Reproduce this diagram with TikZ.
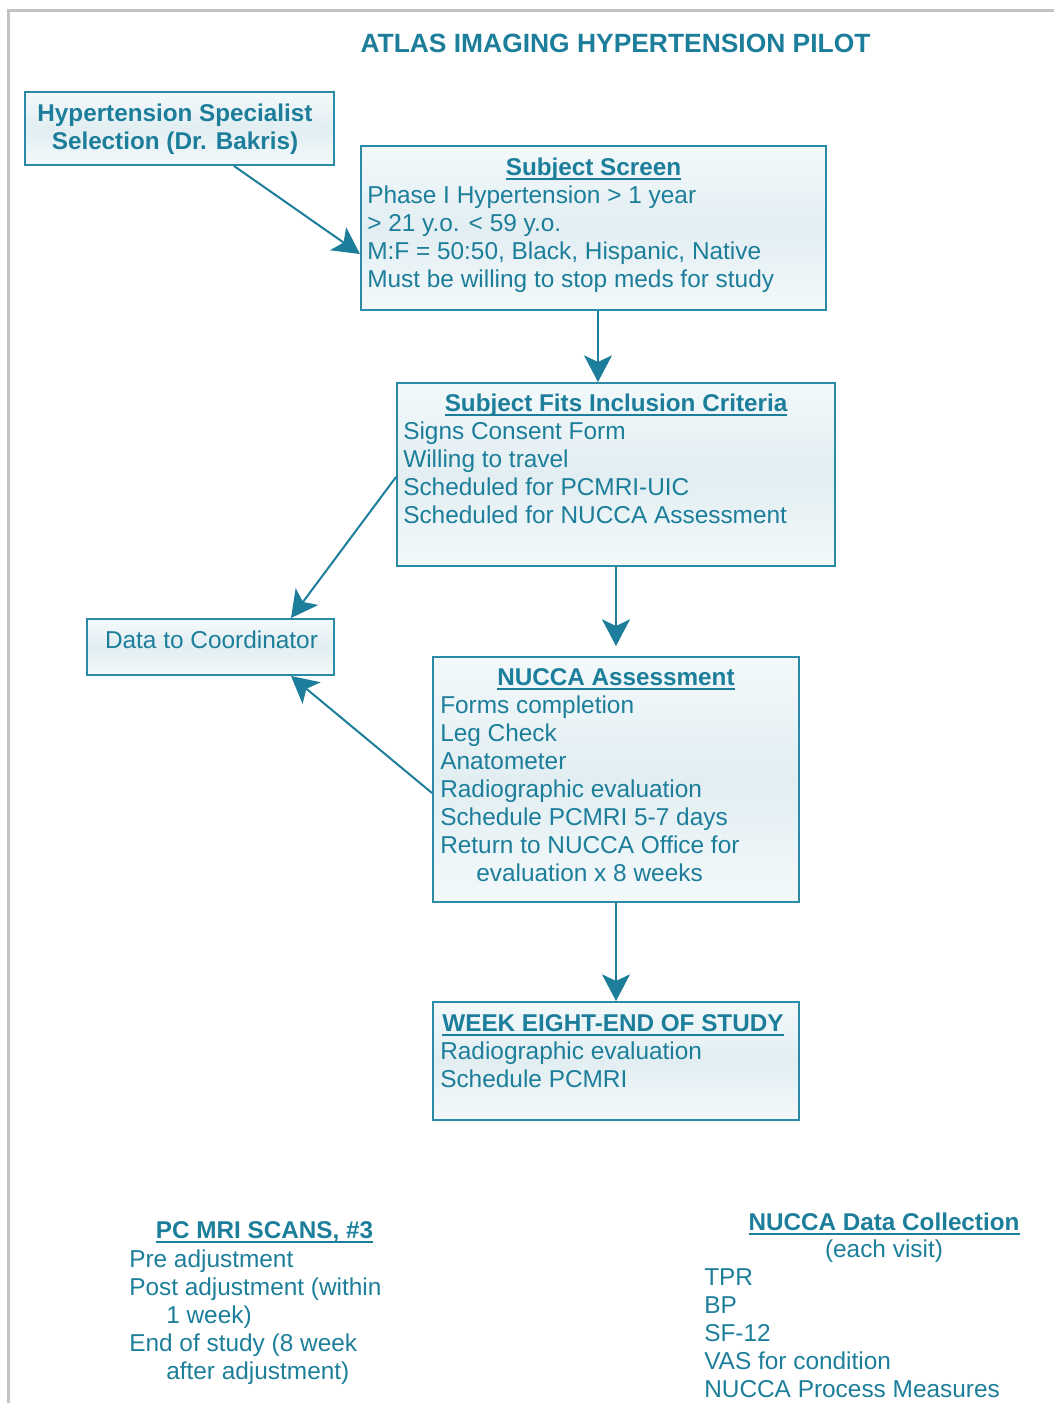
\documentclass[tikz,border=0pt]{standalone}
\usepackage{fontspec}
\setmainfont{Liberation Sans}
\usepackage{xcolor}
\usepackage{tikz}
\usetikzlibrary{arrows.meta}
\usetikzlibrary{calc}

\definecolor{tealtext}{HTML}{1C7E9A}
\definecolor{tealline}{HTML}{2B8AA6}
\definecolor{boxtop}{HTML}{F3F9FB}
\definecolor{boxmid}{HTML}{E2EEF2}
\definecolor{framegray}{HTML}{C3C3C3}

\newcommand{\ultitle}[1]{{\setbox0\hbox{#1}\rlap{\rule[-3.8pt]{\wd0}{1.3pt}}\box0}}

\begin{document}
\begin{tikzpicture}[x=0.75pt, y=-0.75pt, every node/.style={text=tealtext, inner sep=0pt, font=\fontsize{18.3}{21}\selectfont}, box/.style={draw=tealline, line width=1.5pt, top color=boxtop, bottom color=boxtop, middle color=boxmid, anchor=north west}, head/.style={font=\fontsize{18.2}{21}\selectfont\bfseries, anchor=base}, body/.style={align=left, anchor=north west}, arr/.style={draw=tealtext, line width=1.5pt, -{Stealth[length=20pt, width=21pt, inset=5pt]}}]
  \useasboundingbox (0,0) rectangle (1054,1403);
  \draw[framegray, line width=2.25pt] (1054,10) -- (8,10) -- (8,1403);

  \node[font=\fontsize{19.8}{22}\selectfont\bfseries, anchor=base] (title) at (615.5,52) {ATLAS IMAGING HYPERTENSION PILOT};

  % boxes
  \node[box, minimum width=231.75pt, minimum height=54.75pt] (spec) at (24,91) {};
  \node[head, anchor=center, align=center] (spectext) at ($(spec.center)+(-4.5,1)$) {Hypertension Specialist\\Selection (Dr. Bakris)};

  \node[box, minimum width=348.75pt, minimum height=123pt] (screen) at (360,145) {};
  \node[head] (screentitle) at ($(screen.north)+(0,30)$) {\ultitle{Subject Screen}};
  \node[body] (screenbody) at ($(screen.north west)+(7,41)$) {Phase I Hypertension > 1 year\\> 21 y.o. < 59 y.o.\\M:F = 50:50, Black, Hispanic, Native\\Must be willing to stop meds for study};

  \node[box, minimum width=328.5pt, minimum height=137.25pt] (crit) at (396,382) {};
  \node[head] (crittitle) at ($(crit.north)+(0,29)$) {\ultitle{Subject Fits Inclusion Criteria}};
  \node[body] (critbody) at ($(crit.north west)+(7,40)$) {Signs Consent Form\\Willing to travel\\Scheduled for PCMRI-UIC\\Scheduled for NUCCA Assessment};

  \node[box, minimum width=185.25pt, minimum height=42pt] (datac) at (86,618) {};
  \node[anchor=base] (datactext) at ($(datac.north)+(1,30)$) {Data to Coordinator};

  \node[box, minimum width=274.5pt, minimum height=183.75pt] (nucca) at (432,656) {};
  \node[head] (nuccatitle) at ($(nucca.north)+(0,29)$) {\ultitle{NUCCA Assessment}};
  \node[body] (nuccabody) at ($(nucca.north west)+(8,40)$) {Forms completion\\Leg Check\\Anatometer\\Radiographic evaluation\\Schedule PCMRI 5-7 days\\Return to NUCCA Office for\\\hspace*{27pt}evaluation x 8 weeks};

  \node[box, minimum width=274.5pt, minimum height=88.5pt] (week) at (432,1001) {};
  \node[head] (weektitle) at ($(week.north)+(-3,30)$) {\ultitle{WEEK EIGHT-END OF STUDY}};
  \node[body] (weekbody) at ($(week.north west)+(8,41)$) {Radiographic evaluation\\Schedule PCMRI};

  % connectors
  \draw[arr] ($(spec.south)+(54.5,0)$) -- ($(screen.west)+(0,26)$);
  \draw[arr] ($(screen.south)+(4.5,0)$) coordinate (sc) -- (sc |- crit.north);
  \draw[arr] ($(crit.west)+(0,2.5)$) -- ($(datac.north)+(80.5,0)$);
  \draw[arr, shorten >=7.5pt] (crit.south) -- (nucca.north);
  \draw[arr] ($(nucca.west)+(0,13.5)$) -- ($(datac.south)+(80.5,0)$);
  \draw[arr] (nucca.south) -- (week.north);

  % notes at the bottom
  \node[head] (mrititle) at (264.5,1238) {\ultitle{PC MRI SCANS, \#3}};
  \node[body] (mribody) at (129,1250) {Pre adjustment\\Post adjustment (within\\\hspace*{27.75pt}1 week)\\End of study (8 week\\\hspace*{27.75pt}after adjustment)};

  \node[head] (colltitle) at (884,1230) {\ultitle{NUCCA Data Collection}};
  \node[anchor=base] (collsub) at (884,1257) {(each visit)};
  \node[body] (collbody) at (704,1268) {TPR\\BP\\SF-12\\VAS for condition\\NUCCA Process Measures};
\end{tikzpicture}
\end{document}
